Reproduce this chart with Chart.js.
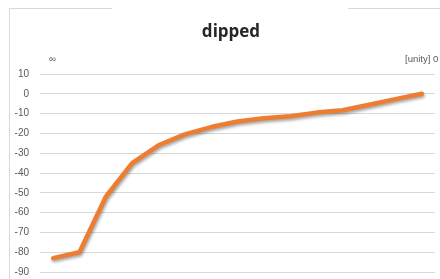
<!DOCTYPE html>
<html>
<head>
<meta charset="utf-8">
<script src="https://cdn.jsdelivr.net/npm/chart.js@4/dist/chart.umd.min.js"></script>
<style>
html,body{margin:0;padding:0;background:#fff;}
#wrap{width:440px;height:279px;position:relative;}
</style>
</head>
<body>
<div id="wrap"><canvas id="c" width="440" height="279"></canvas></div>
<script>
const categories = ["1","2","3","4","5","6","7","8","9","10","11","12","13","14","15"];
const seriesValues = [-83, -80, -52, -35, -26, -20.5, -16.8, -14, -12.3, -11.3, -9.5, -8.3, -5.5, -2.7, 0];
const yTicks = [10, 0, -10, -20, -30, -40, -50, -60, -70, -80, -90];
const chartTitle = "dipped";
const leftLabel = "\u221E";
const rightLabel = "[unity] 0";

const decor = {
  id: 'decor',
  beforeDraw(chart) {
    const ctx = chart.ctx;
    ctx.save();
    ctx.fillStyle = '#fff';
    ctx.fillRect(0, 0, chart.width, chart.height);
    ctx.strokeStyle = '#d9d9d9';
    ctx.lineWidth = 1;
    ctx.beginPath();
    ctx.moveTo(9.5, 279);
    ctx.lineTo(9.5, 8.5);
    ctx.lineTo(112, 8.5);
    ctx.moveTo(348, 8.5);
    ctx.lineTo(440, 8.5);
    ctx.stroke();
    ctx.fillStyle = '#262626';
    ctx.font = 'bold 17px "Open Sans", "Liberation Sans", sans-serif';
    ctx.textAlign = 'center';
    ctx.textBaseline = 'alphabetic';
    ctx.fillText(chartTitle, 231, 37);
    ctx.fillStyle = '#595959';
    ctx.font = '9.5px "Liberation Sans", sans-serif';
    ctx.textAlign = 'left';
    ctx.fillText(leftLabel, 49, 62);
    ctx.fillText(rightLabel, 405, 62);
    ctx.restore();
  },
  beforeDatasetsDraw(chart) {
    const ctx = chart.ctx;
    ctx.save();
    ctx.shadowColor = 'rgba(0,0,0,0.35)';
    ctx.shadowBlur = 3;
    ctx.shadowOffsetX = 1;
    ctx.shadowOffsetY = 2;
  },
  afterDatasetsDraw(chart) {
    chart.ctx.restore();
  }
};

new Chart(document.getElementById('c'), {
  type: 'line',
  data: {
    labels: categories,
    datasets: [{
      data: seriesValues,
      borderColor: '#ED7D31',
      borderWidth: 4.5,
      pointRadius: 0,
      tension: 0,
      fill: false,
      borderCapStyle: 'round',
      borderJoinStyle: 'round'
    }]
  },
  options: {
    responsive: false,
    animation: false,
    devicePixelRatio: 1,
    layout: { padding: { left: 0, right: 5, top: 74, bottom: 7 } },
    plugins: { legend: { display: false }, tooltip: { enabled: false }, title: { display: false } },
    scales: {
      x: { display: false, offset: true },
      y: {
        min: -90, max: 10,
        afterFit(scale) { scale.width = 40; scale.paddingTop = 0; scale.paddingBottom = 0; },
        afterBuildTicks(scale) { scale.ticks = yTicks.map(v => ({ value: v })); },
        grid: { color: '#d9d9d9', lineWidth: 1, drawTicks: false },
        border: { display: false },
        ticks: {
          padding: 11,
          color: '#595959',
          font: { family: '"Liberation Sans", sans-serif', size: 10 }
        }
      }
    }
  },
  plugins: [decor]
});
</script>
</body>
</html>
